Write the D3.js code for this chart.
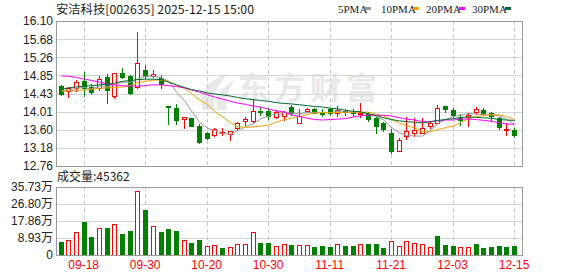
<!DOCTYPE html>
<html>
<head>
<meta charset="utf-8">
<script src="https://cdn.jsdelivr.net/npm/d3@7"></script>
<style>
  body { margin: 0; background: #fff; }
  svg { display: block; font-family: "Liberation Sans", Arial, sans-serif; }
</style>
</head>
<body>
<svg id="chart" width="578" height="276"></svg>
<script>
const dates = ['09-15','09-16','09-17','09-18','09-19','09-22','09-23','09-24','09-25','09-26','09-29','09-30',
  '10-09','10-10','10-13','10-14','10-15','10-16','10-17','10-20','10-21','10-22','10-23','10-24','10-27','10-28','10-29','10-30','10-31',
  '11-03','11-04','11-05','11-06','11-07','11-10','11-11','11-12','11-13','11-14','11-17','11-18','11-19','11-20','11-21','11-24','11-25','11-26','11-27','11-28',
  '12-01','12-02','12-03','12-04','12-05','12-08','12-09','12-10','12-11','12-12','12-15'];

const openP  = [14.60,14.49,14.56,14.72,14.58,14.56,14.80,14.38,14.90,14.83,14.57,14.96,
  14.84,14.78,14.14,14.09,13.84,13.86,13.69,13.51,13.47,13.51,13.50,13.63,13.80,13.80,14.03,14.03,13.90,
  13.91,14.13,13.76,14.03,14.07,13.99,14.07,13.99,14.03,14.00,13.97,13.96,13.87,13.76,13.51,13.11,13.45,13.51,13.53,13.68,
  13.76,14.14,14.05,13.87,13.88,14.01,14.05,13.99,13.87,13.59,13.59];
const highP  = [14.62,14.59,14.74,14.92,14.66,14.83,14.88,14.91,15.01,14.86,15.84,15.09,
  14.96,14.86,14.14,14.18,13.90,13.87,13.73,13.54,13.64,13.63,13.57,13.78,13.90,14.28,14.11,14.10,14.05,
  14.03,14.17,14.07,14.09,14.09,14.07,14.09,14.14,14.07,14.07,14.22,14.00,13.90,13.78,13.61,13.41,13.88,13.87,13.86,13.80,
  14.17,14.14,14.09,13.96,13.99,14.11,14.10,14.01,13.90,13.74,13.64];
const lowP   = [14.39,14.36,14.49,14.38,14.41,14.50,14.22,14.32,14.78,14.43,14.56,14.79,
  14.80,14.55,13.73,13.73,13.63,13.67,13.28,13.38,13.45,13.47,13.36,13.59,13.70,13.78,13.93,13.84,13.86,
  13.82,13.93,13.76,14.01,13.97,13.91,13.93,13.91,13.93,13.91,13.90,13.80,13.53,13.57,13.07,13.11,13.38,13.46,13.51,13.63,
  13.74,14.01,13.90,13.70,13.67,13.96,13.93,13.80,13.61,13.47,13.42];
const closeP = [14.41,14.55,14.69,14.55,14.46,14.76,14.51,14.90,14.82,14.45,15.13,14.84,
  14.89,14.64,14.11,13.82,13.90,13.69,13.31,13.41,13.61,13.54,13.57,13.74,13.84,14.03,14.01,13.91,14.00,
  14.00,13.97,13.91,14.08,13.99,13.98,13.99,14.05,14.00,13.99,13.99,13.84,13.67,13.62,13.11,13.36,13.57,13.59,13.64,13.76,
  14.09,14.07,13.93,13.82,13.93,14.07,13.97,13.91,13.65,13.61,13.47];

const ma5  = [14.49,14.51,14.55,14.57,14.53,14.60,14.59,14.64,14.69,14.69,14.76,14.83,14.83,14.79,14.72,14.46,14.27,14.03,13.77,13.63,
  13.58,13.51,13.49,13.57,13.66,13.74,13.84,13.91,13.96,13.99,13.98,13.96,13.99,13.99,13.99,13.99,14.02,14.00,14.00,14.00,
  13.97,13.90,13.82,13.65,13.52,13.47,13.45,13.45,13.58,13.73,13.83,13.90,13.93,13.97,13.96,13.94,13.94,13.91,13.84,13.72];
const ma10 = [14.48,14.49,14.50,14.51,14.53,14.55,14.56,14.57,14.58,14.61,14.68,14.71,14.74,14.74,14.71,14.61,14.55,14.43,14.28,14.18,
  14.02,13.89,13.76,13.67,13.65,13.66,13.68,13.70,13.77,13.83,13.86,13.90,13.95,13.98,13.99,13.99,13.99,14.00,14.00,14.00,
  14.00,13.95,13.91,13.83,13.75,13.69,13.64,13.55,13.55,13.60,13.64,13.68,13.76,13.85,13.90,13.92,13.94,13.94,13.90,13.83];
const ma20 = [14.83,14.83,14.80,14.76,14.73,14.69,14.65,14.63,14.61,14.60,14.60,14.61,14.63,14.63,14.61,14.59,14.56,14.51,14.46,14.40,
  14.35,14.30,14.25,14.21,14.18,14.14,14.12,14.07,14.03,14.00,13.94,13.90,13.86,13.83,13.82,13.83,13.84,13.85,13.89,13.92,
  13.93,13.93,13.93,13.91,13.87,13.84,13.82,13.78,13.78,13.80,13.82,13.82,13.84,13.84,13.83,13.81,13.79,13.75,13.73,13.72];
const ma30 = [14.53,14.56,14.58,14.60,14.61,14.63,14.65,14.67,14.71,14.73,14.75,14.76,14.76,14.75,14.69,14.63,14.57,14.52,14.49,14.44,
  14.42,14.40,14.37,14.34,14.31,14.29,14.27,14.25,14.22,14.20,14.19,14.17,14.15,14.13,14.12,14.09,14.08,14.04,14.02,14.01,
  13.96,13.92,13.87,13.83,13.80,13.78,13.77,13.75,13.78,13.81,13.83,13.85,13.88,13.89,13.88,13.87,13.86,13.83,13.82,13.81];

// volume in 万 (10k shares), colour read per bar: r = up, g = down
const volume = [7.0,7.9,12.1,17.5,9.5,14.0,14.2,16.3,11.2,12.6,33.6,23.6,15.2,12.3,13.7,12.8,7.9,6.4,7.9,4.7,
  5.3,3.7,4.2,5.8,5.8,12.1,6.3,6.3,4.6,5.8,5.3,5.3,5.3,4.2,4.7,4.2,5.8,4.7,4.7,5.8,
  5.8,5.8,3.7,7.4,4.6,7.4,6.3,5.8,4.2,9.8,5.3,4.7,4.2,4.2,5.8,3.7,4.2,4.7,4.2,4.54];
const volumeDir = 'grrggrgrggrgrgggrggrrgrrrrggrrgrrgggrggrgggrrrrrrgggrrggggg'.split('');

const priceTicks = [12.76, 13.18, 13.60, 14.01, 14.43, 14.85, 15.26, 15.68, 16.10];
const volumeTicks = [0, 8.93, 17.86, 26.80, 35.73];
const dateTicks = ['09-18','09-30','10-20','10-30','11-11','11-21','12-03','12-15'];
const maNames = ['5PMA', '10PMA', '20PMA', '30PMA'];

const chartHelpers = {
  left: 56,
  right: 522,
  price: { top: 21, bottom: 166 },
  vol: { top: 187, bottom: 255 },
  up: '#ff0000',
  down: '#008000',
  grid: '#d4d4d4',
  border: '#9a9a9a',
  maColors: ['#999999', '#f0a000', '#ff00ff', '#006b2e'],
  x: d3.scaleBand().domain(dates).range([56.8, 517.9]),
  y: d3.scaleLinear().domain([12.76, 16.10]).range([166, 21]),
  yv: d3.scaleLinear().domain([0, 35.73]).range([255, 187]),
};
const cx = d => Math.round(chartHelpers.x(d) + chartHelpers.x.bandwidth() / 2);
const px = v => Math.round(v) + 0.5;

const svg = d3.select('#chart');

const charts = {
  watermark: () => {
    const g = svg.append('g').attr('fill', '#e8e8e8');
    g.append('path').attr('d', 'M203,110 C197,96 206,80 229,73 C216,85 212,97 215,110 Z');
    g.append('path').attr('d', 'M217,110 C215,98 221,87 235,80 C227,91 225,101 227,110 Z');
    g.append('text')
      .attr('x', 238).attr('y', 99)
      .attr('font-family', '"Noto Sans CJK SC", sans-serif')
      .attr('font-size', 31).attr('font-weight', 'bold')
      .attr('letter-spacing', 5)
      .text('东方财富');
  },
  grids: () => {
    const h = chartHelpers;
    const g = svg.append('g').attr('shape-rendering', 'crispEdges');
    g.selectAll('.pg').data(priceTicks).enter().append('line')
      .attr('x1', h.left).attr('x2', h.right)
      .attr('y1', d => px(h.y(d))).attr('y2', d => px(h.y(d)))
      .attr('stroke', h.grid);
    g.selectAll('.vg').data(volumeTicks).enter().append('line')
      .attr('x1', h.left).attr('x2', h.right)
      .attr('y1', d => px(h.yv(d))).attr('y2', d => px(h.yv(d)))
      .attr('stroke', h.grid);
    [h.price, h.vol].forEach(p => {
      g.selectAll(null).data(dateTicks).enter().append('line')
        .attr('x1', d => cx(d) + 0.5).attr('x2', d => cx(d) + 0.5)
        .attr('y1', p.top).attr('y2', p.bottom)
        .attr('stroke', '#c8c8c8')
        .attr('stroke-dasharray', '4,3');
    });
  },
  borders: () => {
    const h = chartHelpers;
    [h.price, h.vol].forEach(p => {
      svg.append('rect')
        .attr('x', h.left + 0.5).attr('y', p.top + 0.5)
        .attr('width', h.right - h.left).attr('height', p.bottom - p.top)
        .attr('fill', 'none').attr('stroke', h.border)
        .attr('shape-rendering', 'crispEdges');
    });
  },
  candles: () => {
    const h = chartHelpers;
    const data = dates.map((d, i) => ({ d, o: openP[i], hi: highP[i], lo: lowP[i], c: closeP[i] }));
    const g = svg.append('g').attr('shape-rendering', 'crispEdges');
    const k = g.selectAll('g').data(data).enter().append('g');
    k.append('line')
      .attr('x1', d => cx(d.d) + 0.5).attr('x2', d => cx(d.d) + 0.5)
      .attr('y1', d => Math.round(h.y(d.hi))).attr('y2', d => Math.round(h.y(d.lo)) + 1)
      .attr('stroke', d => d.c >= d.o ? h.up : h.down)
      .attr('stroke-width', 1);
    k.each(function(d) {
      const top = Math.round(h.y(Math.max(d.o, d.c)));
      const bot = Math.round(h.y(Math.min(d.o, d.c)));
      const sel = d3.select(this);
      if (d.c >= d.o) {
        sel.append('rect')
          .attr('x', cx(d.d) - 1.5).attr('y', top + 0.5)
          .attr('width', 4).attr('height', Math.max(bot - top, 1))
          .attr('fill', '#ffffff').attr('stroke', h.up).attr('stroke-width', 1);
      } else {
        sel.append('rect')
          .attr('x', cx(d.d) - 2).attr('y', top)
          .attr('width', 5).attr('height', Math.max(bot - top + 1, 2))
          .attr('fill', h.down);
      }
    });
  },
  maLines: () => {
    const h = chartHelpers;
    [ma5, ma10, ma20, ma30].forEach((s, j) => {
      const line = d3.line().x((v, i) => cx(dates[i]) + 0.5).y(v => h.y(v));
      svg.append('path').datum(s)
        .attr('d', line)
        .attr('fill', 'none')
        .attr('stroke', h.maColors[j])
        .attr('stroke-width', 1);
    });
  },
  volumeBars: () => {
    const h = chartHelpers;
    const data = dates.map((d, i) => ({ d, v: volume[i], up: volumeDir[i] === 'r' }));
    svg.append('g').attr('shape-rendering', 'crispEdges')
      .selectAll('rect').data(data).enter().append('rect')
      .attr('x', d => d.up ? cx(d.d) - 1.5 : cx(d.d) - 2)
      .attr('y', d => d.up ? Math.round(h.yv(d.v)) + 0.5 : Math.round(h.yv(d.v)))
      .attr('width', d => d.up ? 4 : 5)
      .attr('height', d => d.up ? 255 - Math.round(h.yv(d.v)) - 0.5 : 256 - Math.round(h.yv(d.v)))
      .attr('fill', d => d.up ? '#ffffff' : h.down)
      .attr('stroke', d => d.up ? h.up : 'none');
  },
  axes: () => {
    const h = chartHelpers;
    const py = svg.append('g')
      .attr('transform', 'translate(' + h.left + ',0)')
      .call(d3.axisLeft(h.y).tickValues(priceTicks).tickSize(0).tickPadding(3).tickFormat(d3.format('.2f')));
    const vy = svg.append('g')
      .attr('transform', 'translate(' + h.left + ',0)')
      .call(d3.axisLeft(h.yv).tickValues(volumeTicks).tickSize(0).tickPadding(3)
        .tickFormat(d => d === 0 ? '0' : d.toFixed(2) + '万'));
    const xa = svg.append('g')
      .attr('transform', 'translate(0,' + h.vol.bottom + ')')
      .call(d3.axisBottom(h.x).tickValues(dateTicks).tickSize(0).tickPadding(5));
    [py, vy, xa].forEach(a => {
      a.select('.domain').remove();
      a.selectAll('text').attr('font-size', 12)
        .attr('font-family', '"Liberation Sans", "Noto Sans CJK SC", sans-serif')
        .attr('fill', '#222');
    });
    xa.selectAll('text').attr('fill', h.up);
  },
  header: () => {
    svg.append('text')
      .attr('x', 56).attr('y', 14)
      .attr('font-size', 12)
      .attr('font-family', '"Noto Sans CJK SC", sans-serif')
      .attr('fill', '#222')
      .attr('textLength', 198).attr('lengthAdjust', 'spacingAndGlyphs')
      .text('安洁科技[002635] 2025-12-15 15:00');
    const legX = [338, 381, 426, 472];
    const boxX = [365, 413, 459, 505];
    maNames.forEach((n, j) => {
      svg.append('text')
        .attr('x', legX[j]).attr('y', 13)
        .attr('font-size', 11)
        .attr('font-family', '"Liberation Serif", serif')
        .attr('fill', '#222')
        .text(n);
      svg.append('rect')
        .attr('x', boxX[j]).attr('y', 7)
        .attr('width', 6).attr('height', 3)
        .attr('fill', chartHelpers.maColors[j]);
    });
    svg.append('text')
      .attr('x', 57).attr('y', 181)
      .attr('font-size', 12)
      .attr('font-family', '"Noto Sans CJK SC", sans-serif')
      .attr('fill', '#222')
      .text('成交量:45362');
  }
};

charts.watermark();
charts.grids();
charts.candles();
charts.maLines();
charts.volumeBars();
charts.borders();
charts.axes();
charts.header();
</script>
</body>
</html>
